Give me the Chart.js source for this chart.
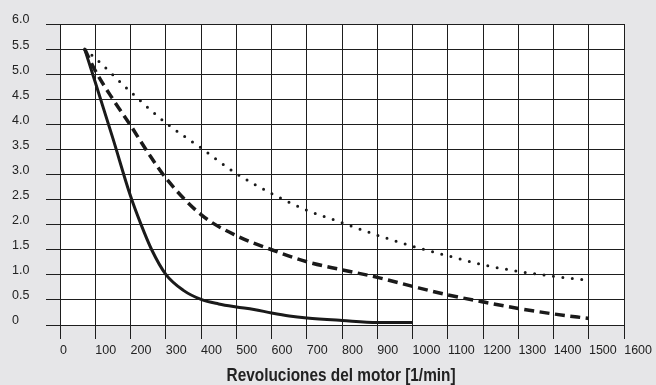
<!DOCTYPE html>
<html>
<head>
<meta charset="utf-8">
<script src="https://cdn.jsdelivr.net/npm/chart.js@4/dist/chart.umd.min.js"></script>
<style>
  html, body { margin: 0; padding: 0; background: #e6e6e8; }
  #chart { display: block; }
</style>
</head>
<body>
<canvas id="chart" width="656" height="385"></canvas>
<script>
// curve readings (x = rpm, y = value)
const solidX = [70, 100, 150, 200, 230, 260, 300, 350, 400, 450, 500, 550, 600, 650, 700, 800, 900, 1000];
const solidY = [5.5, 4.84, 3.72, 2.57, 2.0, 1.5, 1.01, 0.69, 0.51, 0.42, 0.36, 0.31, 0.24, 0.18, 0.14, 0.09, 0.05, 0.05];

const dashedX = [70, 100, 150, 200, 250, 300, 400, 500, 600, 700, 800, 900, 1000, 1100, 1200, 1300, 1400, 1500];
const dashedY = [5.5, 5.07, 4.5, 3.98, 3.43, 2.93, 2.2, 1.78, 1.5, 1.26, 1.1, 0.95, 0.77, 0.6, 0.46, 0.33, 0.22, 0.13];

const dottedX = [70, 100, 200, 300, 400, 500, 600, 700, 800, 900, 1000, 1100, 1200, 1300, 1400, 1500];
const dottedY = [5.5, 5.32, 4.65, 4.03, 3.53, 3.02, 2.62, 2.29, 2.04, 1.79, 1.57, 1.38, 1.2, 1.07, 0.97, 0.89];

const xTickLabels = ["0", "100", "200", "300", "400", "500", "600", "700", "800", "900", "1000", "1100", "1200", "1300", "1400", "1500", "1600"];
const yTickLabels = ["0", "0.5", "1.0", "1.5", "2.0", "2.5", "3.0", "3.5", "4.0", "4.5", "5.0", "5.5", "6.0"];

const xTitle = "Revoluciones del motor [1/min]";

const toPoints = (xs, ys) => xs.map((x, i) => ({ x: x, y: ys[i] }));

const GRID = "#1e1e1e";
const INK = "#1a1a1a";

// white plot area on grey page
const plotBg = {
  id: "plotBg",
  beforeDraw(chart) {
    const { ctx, chartArea } = chart;
    ctx.save();
    ctx.fillStyle = "#ffffff";
    ctx.fillRect(chartArea.left, chartArea.top, chartArea.right - chartArea.left, chartArea.bottom - chartArea.top);
    ctx.restore();
  },
};

// condensed bold axis title (no narrow font installed, so squeeze it)
const condensedTitle = {
  id: "condensedTitle",
  afterDraw(chart) {
    const { ctx, chartArea } = chart;
    const cx = (chartArea.left + chartArea.right) / 2 - 1;
    ctx.save();
    ctx.font = "bold 18px 'Liberation Sans', sans-serif";
    ctx.fillStyle = "#222";
    ctx.textAlign = "center";
    ctx.textBaseline = "alphabetic";
    const w = ctx.measureText(xTitle).width;
    ctx.translate(cx, 381);
    ctx.scale(229 / w, 1);
    ctx.fillText(xTitle, 0, 0);
    ctx.restore();
  },
};

const lineBase = {
  pointRadius: 0,
  borderColor: INK,
  fill: false,
  cubicInterpolationMode: "monotone",
};

new Chart(document.getElementById("chart"), {
  type: "line",
  data: {
    datasets: [
      Object.assign({}, lineBase, {
        data: toPoints(solidX, solidY),
        borderWidth: 3,
      }),
      Object.assign({}, lineBase, {
        data: toPoints(dashedX, dashedY),
        borderWidth: 3.5,
        borderDash: [10, 5.5],
      }),
      Object.assign({}, lineBase, {
        data: toPoints(dottedX, dottedY),
        borderWidth: 3,
        borderDash: [0, 9.5],
        borderCapStyle: "round",
      }),
    ],
  },
  options: {
    responsive: false,
    animation: false,
    layout: { padding: { top: 24, left: 12, right: 31, bottom: 0 } },
    plugins: {
      legend: { display: false },
      tooltip: { enabled: false },
    },
    scales: {
      x: {
        type: "linear",
        min: 0,
        max: 1600,
        afterFit: (scale) => { scale.height = 60; },
        grid: { color: GRID, tickColor: GRID, tickLength: 14, lineWidth: 1 },
        border: { color: GRID },
        ticks: {
          stepSize: 100,
          align: "start",
          maxRotation: 0,
          autoSkip: false,
          padding: 4,
          color: "#222",
          font: { family: "'Liberation Sans', sans-serif", size: 12.5 },
          callback: (v, i) => xTickLabels[i],
        },
      },
      y: {
        min: 0,
        max: 6,
        afterFit: (scale) => { scale.width = 48; },
        grid: { color: GRID, tickColor: GRID, tickLength: 14, lineWidth: 1 },
        border: { color: GRID },
        ticks: {
          stepSize: 0.5,
          crossAlign: "far",
          labelOffset: -4,
          color: "#222",
          font: { family: "'Liberation Sans', sans-serif", size: 12.5 },
          callback: (v, i) => yTickLabels[i],
        },
      },
    },
  },
  plugins: [plotBg, condensedTitle],
});
</script>
</body>
</html>
